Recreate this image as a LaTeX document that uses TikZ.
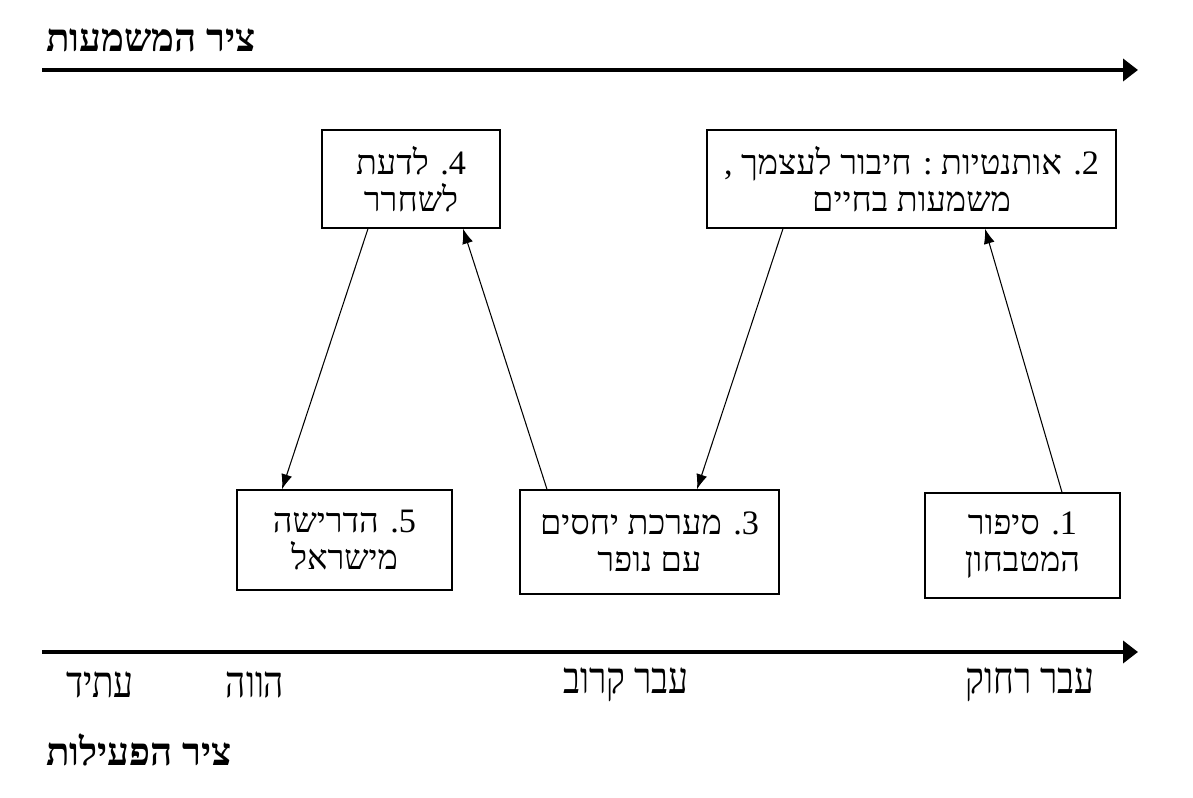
\documentclass[tikz,border=0pt]{standalone}
\usepackage{fontspec}
\usetikzlibrary{arrows.meta,positioning}
\TeXXeTstate=1
\newfontfamily\hebfont[Script=Hebrew]{Liberation Serif}
\newfontfamily\hebcond[Script=Hebrew,FakeStretch=0.8]{Liberation Serif}
\newcommand{\heb}[1]{\beginR #1\endR}
\tikzset{
  stage/.style={draw=black, line width=0.8pt, align=center, inner sep=2pt,
    font=\hebfont\fontsize{19.5}{21}\selectfont},
  axis/.style={draw=black, line width=2.2pt, -{Triangle[length=0.3cm,width=0.44cm]}},
  link/.style={draw=black, line width=0.6pt, -{Latex[length=0.3cm,width=0.22cm]}},
  axistitle/.style={anchor=west, font=\hebfont\bfseries\fontsize{22}{26}\selectfont},
  timelabel/.style={font=\hebcond\fontsize{25}{28}\selectfont}
}
\begin{document}
\begin{tikzpicture}
    \useasboundingbox (0,0) rectangle (23.86,15.96);
    % axes
    \node[axistitle] (mtitle) at (0.8,15.16) {\heb{ציר המשמעות}};
    \coordinate (mstart) at (0.84,14.56);
    \coordinate (mend) at (22.76,14.56);
    \draw[axis] (mstart) -- (mend);
    \coordinate (astart) at (0.84,2.92);
    \coordinate (aend) at (22.76,2.92);
    \draw[axis] (astart) -- (aend);
    \node[axistitle] (atitle) at (0.8,0.96) {\heb{ציר הפעילות}};
    \node[timelabel] (future) at (2.0,2.26) {\heb{עתיד}};
    \node[timelabel] (present) at (5.1,2.26) {\heb{הווה}};
    \node[timelabel] (nearpast) at (12.52,2.26) {\heb{עבר קרוב}};
    \node[timelabel] (farpast) at (20.6,2.26) {\heb{עבר רחוק}};
    % stages
    \node[stage, minimum width=3.9cm, minimum height=2.1cm] (kitchen) at (20.45,5.05)
        {\heb{1. סיפור}\\ \heb{המטבחון}};
    \node[stage, minimum width=8.18cm, minimum height=1.96cm] (authentic) at (18.23,12.38)
        {\heb{2. אותנטיות : חיבור לעצמך ,}\\ \heb{משמעות בחיים}};
    \node[stage, minimum width=5.18cm, minimum height=2.08cm] (relation) at (12.99,5.12)
        {\heb{3. מערכת יחסים}\\ \heb{עם נופר}};
    \node[stage, minimum width=3.56cm, minimum height=1.96cm] (release) at (8.22,12.38)
        {\heb{4. לדעת}\\ \heb{לשחרר}};
    \node[stage, minimum width=4.3cm, minimum height=2.0cm] (demand) at (6.89,5.16)
        {\heb{5. הדרישה}\\ \heb{מישראל}};
    % links
    \draw[link] ([xshift=0.79cm]kitchen.north) -- ([xshift=1.47cm]authentic.south);
    \draw[link] ([xshift=-2.57cm]authentic.south) -- ([xshift=0.95cm]relation.north);
    \draw[link] ([xshift=-2.05cm]relation.north) -- ([xshift=1.04cm]release.south);
    \draw[link] ([xshift=-0.86cm]release.south) -- ([xshift=-1.25cm]demand.north);
\end{tikzpicture}
\end{document}
